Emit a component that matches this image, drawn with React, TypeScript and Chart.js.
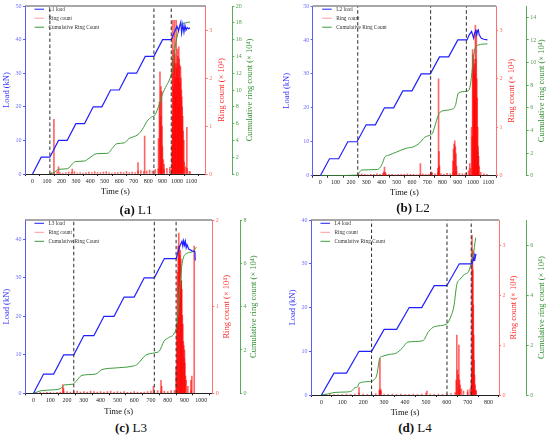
import { useEffect, useRef } from "react";
import { Chart, registerables } from "chart.js";

Chart.register(...registerables);

const SERIF = '"Liberation Serif", "Times New Roman", serif';
Chart.defaults.font.family = SERIF;

// ---------- L1 ----------
const xTicksA = [0, 100, 200, 300, 400, 500, 600, 700, 800, 900, 1000, 1100];
const loadTicksA = [0, 10, 20, 30, 40, 50];
const ringTicksA = [0, 1, 2, 3];
const cumTicksA = [0, 2, 4, 6, 8, 10, 12, 14, 16, 18, 20];
const dashTimesA = [120, 840, 960];
const loadTimeA = [0, 60, 120, 180, 240, 300, 360, 420, 480, 540, 600, 660, 720, 780, 840, 900, 960, 1000, 1010, 1018, 1026, 1032, 1040, 1048, 1055, 1062, 1070, 1080, 1090];
const loadValA = [0, 5, 5, 10, 10, 15, 15, 20, 20, 25, 25, 30, 30, 35, 35, 40, 40, 44, 42.5, 44, 45.2, 42, 44.5, 42.2, 44.2, 42.8, 43.6, 43.2, 43.5];
const cumTimeA = [116, 148, 180, 243, 275, 296, 360, 391, 444, 518, 561, 582, 635, 666, 730, 760, 793, 825, 846, 878, 899, 920, 952, 968, 984, 1005, 1016, 1030, 1060, 1090];
const cumValA = [0, 0.16, 0.56, 0.63, 1.19, 1.47, 1.55, 1.87, 2.42, 2.46, 3.25, 3.6, 3.7, 4.2, 4.7, 5.3, 6.3, 6.8, 7.0, 8.3, 9.5, 10.3, 11.4, 12.4, 14.8, 16.7, 17.5, 17.8, 18.0, 18.1];
const ringTimeA = [148, 180, 275, 730, 776, 872, 878, 882, 886, 889, 893, 896, 899, 905, 910, 962, 966, 969, 972, 975, 978, 981, 984, 987, 990, 994, 997, 1000, 1003, 1006, 1009, 1012, 1015, 1018, 1021, 1024, 1027, 1030, 1033, 1036, 1039, 1043, 1047, 1058, 1068, 1085];
const ringValA = [1.14, 0.15, 0.1, 0.24, 0.79, 0.74, 1.5, 2.13, 1.2, 1.82, 1.72, 1.0, 0.57, 0.3, 0.2, 0.1, 0.6, 3.2, 2.4, 2.58, 1.8, 3.2, 2.5, 2.3, 2.0, 3.2, 2.2, 2.3, 2.6, 2.45, 2.0, 2.65, 2.4, 2.27, 1.9, 2.24, 2.0, 1.75, 1.6, 1.4, 1.2, 0.9, 0.7, 0.15, 0.97, 0.05];
const noiseTimeA = [130, 150, 170, 190, 210, 230, 250, 270, 290, 310, 330, 350, 370, 390, 410, 430, 450, 470, 490, 510, 530, 550, 570, 590, 610, 630, 650, 670, 690, 710, 730, 750, 770, 790, 810, 830, 850, 870, 890, 910, 930, 950, 970, 990, 1010, 1030, 1050, 1070, 1090];
const noiseValA = [
  0.03, 0.02, 0.05, 0.03, 0.02, 0.03, 0.04, 0.03, 0.05, 0.02,
  0.03, 0.02, 0.03, 0.04, 0.03, 0.05, 0.03, 0.03, 0.04, 0.05,
  0.03, 0.02, 0.03, 0.03, 0.04, 0.03, 0.05, 0.03, 0.04, 0.03,
  0.06, 0.07, 0.05, 0.06, 0.08, 0.06, 0.09, 0.11, 0.14, 0.1,
  0.12, 0.14, 1.2, 1.6, 1.4, 1.0, 0.25, 0.12, 0.05,
];

// ---------- L2 ----------
const xTicksB = [0, 100, 200, 300, 400, 500, 600, 700, 800, 900, 1000, 1100];
const loadTicksB = [0, 10, 20, 30, 40, 50];
const ringTicksB = [0, 1, 2, 3];
const cumTicksB = [0, 2, 4, 6, 8, 10, 12, 14];
const dashTimesB = [245, 722, 956];
const loadTimeB = [0, 60, 120, 180, 240, 300, 360, 420, 480, 540, 600, 660, 720, 780, 840, 900, 960, 975, 990, 997, 1004, 1010, 1018, 1024, 1030, 1034, 1040, 1054, 1070, 1094];
const loadValB = [0, 5, 5, 10, 10, 15, 15, 20, 20, 25, 25, 30, 30, 35, 35, 40, 40, 41.5, 42.5, 41.5, 40.5, 42, 42.8, 41.5, 42.8, 43, 41.5, 40.5, 40.2, 40];
const cumTimeB = [0, 244, 256, 270, 374, 400, 424, 445, 500, 564, 614, 650, 684, 720, 734, 748, 774, 794, 854, 884, 904, 954, 974, 990, 1000, 1010, 1034, 1094];
const cumValB = [0, 0.05, 0.3, 0.5, 0.55, 0.9, 1.68, 1.8, 2.1, 2.43, 2.57, 2.9, 3.4, 3.6, 3.75, 4.3, 5.4, 5.7, 5.85, 6.2, 7.3, 7.45, 7.6, 8.8, 10.2, 11.1, 11.55, 11.65];
const ringTimeB = [415, 420, 425, 655, 725, 730, 770, 774, 777, 780, 868, 872, 876, 880, 884, 888, 892, 978, 982, 994, 997, 1000, 1003, 1006, 1009, 1012, 1015, 1018, 1021, 1024, 1027, 1030, 1033, 1036, 1040];
const ringValB = [0.08, 0.18, 0.07, 0.25, 0.08, 0.07, 0.15, 2.0, 0.5, 0.2, 0.3, 0.55, 0.65, 0.72, 0.6, 0.45, 0.2, 0.25, 0.15, 0.8, 2.6, 2.5, 2.2, 2.4, 2.3, 2.1, 3.1, 2.4, 3.0, 2.0, 1.6, 1.0, 0.6, 0.4, 0.2];
const noiseTimeB = [250, 270, 290, 310, 330, 350, 370, 390, 410, 430, 450, 470, 490, 510, 530, 550, 570, 590, 610, 630, 650, 670, 690, 710, 730, 750, 770, 790, 810, 830, 850, 870, 890, 910, 930, 950, 970, 990, 1010, 1030, 1050, 1070, 1090];
const noiseValB = [
  0.03, 0.04, 0.03, 0.02, 0.03, 0.03, 0.04, 0.03, 0.05, 0.04,
  0.03, 0.03, 0.02, 0.03, 0.03, 0.03, 0.04, 0.03, 0.03, 0.02,
  0.03, 0.04, 0.03, 0.03, 0.05, 0.04, 0.06, 0.04, 0.03, 0.05,
  0.04, 0.07, 0.09, 0.05, 0.04, 0.05, 0.1, 1.0, 1.6, 0.5,
  0.07, 0.04, 0.03,
];

// ---------- L3 ----------
const xTicksC = [0, 100, 200, 300, 400, 500, 600, 700, 800, 900, 1000];
const loadTicksC = [0, 10, 20, 30, 40];
const ringTicksC = [0, 1, 2];
const cumTicksC = [0, 2, 4, 6, 8];
const dashTimesC = [240, 720, 850];
const loadTimeC = [0, 60, 120, 180, 240, 300, 360, 420, 480, 540, 600, 660, 720, 780, 850, 870, 885, 890, 895, 900, 905, 910, 915, 925, 945, 962, 964];
const loadValC = [0, 5, 5, 10, 10, 15, 15, 20, 20, 25, 25, 30, 30, 35, 35, 38, 39.5, 38.3, 39.6, 38.5, 39.5, 37.8, 38.6, 37.5, 37, 36.8, 34.5];
const cumTimeC = [0, 45, 118, 163, 186, 235, 253, 289, 371, 407, 488, 588, 615, 669, 723, 750, 778, 805, 841, 855, 868, 886, 913, 949, 971];
const cumValC = [0, 0.12, 0.16, 0.23, 0.39, 0.42, 0.55, 0.83, 0.89, 1.09, 1.17, 1.25, 1.32, 1.76, 1.87, 1.95, 2.41, 2.57, 2.8, 3.2, 4.4, 6.0, 6.46, 6.54, 6.75];
const ringTimeC = [175, 178, 715, 760, 764, 850, 854, 858, 862, 866, 869, 872, 875, 878, 881, 884, 887, 890, 893, 896, 899, 902, 906, 910, 938, 944, 958];
const ringValC = [0.1, 0.06, 0.08, 0.15, 0.08, 0.3, 0.8, 1.4, 1.7, 1.85, 1.7, 1.6, 1.65, 1.55, 1.3, 1.2, 0.9, 0.8, 0.6, 0.55, 0.4, 0.35, 0.2, 0.15, 0.15, 0.2, 1.7];
const noiseTimeC = [20, 40, 60, 80, 100, 120, 140, 160, 180, 200, 220, 240, 260, 280, 300, 320, 340, 360, 380, 400, 420, 440, 460, 480, 500, 520, 540, 560, 580, 600, 620, 640, 660, 680, 700, 720, 740, 760, 780, 800, 820, 840, 860, 880, 900, 920, 940];
const noiseValC = [
  0.005, 0.01, 0.005, 0.01, 0.01, 0.005, 0.01, 0.015, 0.025, 0.02,
  0.015, 0.02, 0.025, 0.015, 0.02, 0.015, 0.025, 0.02, 0.015, 0.02,
  0.015, 0.02, 0.025, 0.015, 0.02, 0.015, 0.02, 0.01, 0.015, 0.02,
  0.015, 0.01, 0.015, 0.02, 0.025, 0.015, 0.03, 0.02, 0.025, 0.02,
  0.03, 0.03, 0.9, 1.3, 0.5, 0.08, 0.03,
];

// ---------- L4 ----------
const xTicksD = [0, 100, 200, 300, 400, 500, 600, 700, 800];
const loadTicksD = [0, 10, 20, 30, 40];
const ringTicksD = [0, 1, 2, 3];
const cumTicksD = [0, 2, 4, 6];
const dashTimesD = [240, 601, 717];
const loadTimeD = [0, 60, 120, 180, 240, 300, 360, 420, 480, 540, 600, 660, 720, 724, 728, 731, 734, 737, 740];
const loadValD = [0, 5, 5, 10, 10, 15, 15, 20, 20, 25, 25, 30, 30, 30.5, 31.3, 30.8, 32, 31.6, 32.3];
const cumTimeD = [0, 31, 60, 116, 145, 159, 173, 180, 230, 251, 265, 279, 289, 329, 357, 386, 414, 485, 513, 542, 599, 620, 634, 648, 662, 684, 705, 715, 726, 738];
const cumValD = [0, 0.04, 0.1, 0.12, 0.16, 0.29, 0.33, 0.47, 0.54, 0.6, 0.8, 1.47, 1.54, 1.63, 1.67, 1.87, 2.12, 2.17, 2.54, 2.74, 2.84, 3.15, 3.55, 4.42, 4.62, 4.82, 4.95, 5.22, 5.56, 6.29];
const ringTimeD = [180, 277, 280, 283, 286, 505, 645, 648, 651, 655, 658, 661, 664, 670, 700, 712, 718, 721, 723, 725, 727, 729, 731, 733, 736, 740];
const ringValD = [0.15, 0.1, 0.73, 0.12, 0.08, 0.08, 0.3, 1.2, 0.5, 0.4, 1.0, 0.3, 0.2, 0.12, 0.1, 0.12, 0.3, 3.2, 2.9, 2.5, 1.8, 1.2, 0.7, 0.4, 0.2, 0.1];
const noiseTimeD = [20, 40, 60, 80, 100, 120, 140, 160, 180, 200, 220, 240, 260, 280, 300, 320, 340, 360, 380, 400, 420, 440, 460, 480, 500, 520, 540, 560, 580, 600, 620, 640, 660, 680, 700, 720, 740];
const noiseValD = [
  0.01, 0.015, 0.015, 0.01, 0.015, 0.02, 0.015, 0.02, 0.04, 0.02,
  0.015, 0.02, 0.03, 0.07, 0.02, 0.015, 0.02, 0.015, 0.02, 0.015,
  0.015, 0.02, 0.015, 0.02, 0.04, 0.02, 0.015, 0.02, 0.015, 0.02,
  0.03, 0.05, 0.12, 0.08, 0.05, 0.5, 0.08,
];

const BLUE = "#2020ff";
const RED = "#ff2a2a";
const GREEN = "#3c9c3c";
const RING_TITLE = "Ring count (× 10⁴)";
const CUM_TITLE = "Cumulative ring count (× 10⁴)";

const panels = [
  {
    key: "a", letter: "(a)", name: "L1", loadLabel: "L1 load",
    xMax: 1147, loadMax: 50, ringMax: 3.5, cumMax: 20,
    xTicks: xTicksA, loadTicks: loadTicksA, ringTicks: ringTicksA, cumTicks: cumTicksA,
    dashes: dashTimesA, loadT: loadTimeA, loadV: loadValA, cumT: cumTimeA, cumV: cumValA,
    ringT: [...ringTimeA, ...noiseTimeA], ringV: [...ringValA, ...noiseValA],
    box: { left: 0, top: 0, w: 260, h: 200, padTop: 6, loadW: 25, ringW: 26.5, cumW: 27.7, xH: 26, loadPad: 1.6, ringPad: 5.5, cumPad: 4.9, xPad: 3.2 },
    cap: { x: 136, y: 210 },
  },
  {
    key: "b", letter: "(b)", name: "L2", loadLabel: "L2 load",
    xMax: 1100, loadMax: 50, ringMax: 3.5, cumMax: 15,
    xTicks: xTicksB, loadTicks: loadTicksB, ringTicks: ringTicksB, cumTicks: cumTicksB,
    dashes: dashTimesB, loadT: loadTimeB, loadV: loadValB, cumT: cumTimeB, cumV: cumValB,
    ringT: [...ringTimeB, ...noiseTimeB], ringV: [...ringValB, ...noiseValB],
    box: { left: 275, top: 0, w: 275, h: 200, padTop: 6, loadW: 37.7, ringW: 30.7, cumW: 23.3, xH: 24.3, loadPad: 6.6, ringPad: 9.9, cumPad: 3.2, xPad: 2.2 },
    cap: { x: 413, y: 208 },
  },
  {
    key: "c", letter: "(c)", name: "L3", loadLabel: "L3 load",
    xMax: 1015, loadMax: 45, ringMax: 2, cumMax: 8,
    xTicks: xTicksC, loadTicks: loadTicksC, ringTicks: ringTicksC, cumTicks: cumTicksC,
    dashes: dashTimesC, loadT: loadTimeC, loadV: loadValC, cumT: cumTimeC, cumV: cumValC,
    ringT: [...ringTimeC, ...noiseTimeC], ringV: [...ringValC, ...noiseValC],
    box: { left: 0, top: 215, w: 260, h: 205, padTop: 5, loadW: 25, ringW: 27.7, cumW: 20, xH: 26.7, loadPad: 1.6, ringPad: 8.2, cumPad: 0.9, xPad: 3.2 },
    cap: { x: 131, y: 428 },
  },
  {
    key: "d", letter: "(d)", name: "L4", loadLabel: "L4 load",
    xMax: 800, loadMax: 40, ringMax: 3.5, cumMax: 7,
    xTicks: xTicksD, loadTicks: loadTicksD, ringTicks: ringTicksD, cumTicks: cumTicksD,
    dashes: dashTimesD, loadT: loadTimeD, loadV: loadValD, cumT: cumTimeD, cumV: cumValD,
    ringT: [...ringTimeD, ...noiseTimeD], ringV: [...ringValD, ...noiseValD],
    box: { left: 275, top: 215, w: 275, h: 205, padTop: 5, loadW: 36, ringW: 27.7, cumW: 23.3, xH: 25, loadPad: 12.2, ringPad: 8.3, cumPad: 3.2, xPad: 2.2 },
    cap: { x: 415, y: 428 },
  },
];

const pts = (xs: number[], ys: number[]) => xs.map((x, i) => ({ x, y: ys[i] }));

// grey top frame, inside legend, and right-hand titles read bottom-to-top
function makeFramePlugin(b: any) {
  return {
    id: "frameLegend",
    afterDraw(chart: any) {
      const { ctx, chartArea: a, scales } = chart;
      ctx.save();
      ctx.strokeStyle = "#8a8a8a";
      ctx.lineWidth = 1.5;
      ctx.beginPath();
      ctx.moveTo(a.left, a.top);
      ctx.lineTo(a.right, a.top);
      ctx.stroke();

      ctx.font = `5.3px ${SERIF}`;
      ctx.textBaseline = "middle";
      ctx.textAlign = "left";
      const items = chart.data.datasets.filter((d: any) => d.legendColor);
      items.forEach((d: any, i: number) => {
        const y = a.top + 3.2 + i * 9;
        ctx.strokeStyle = d.legendColor;
        ctx.lineWidth = 1;
        ctx.beginPath();
        ctx.moveTo(a.left + 9.5, y);
        ctx.lineTo(a.left + 19, y);
        ctx.stroke();
        ctx.fillStyle = "#333";
        ctx.fillText(d.label, a.left + 23.5, y);
      });

      const midY = (a.top + a.bottom) / 2;
      const titles = [
        { s: scales.yRing, text: RING_TITLE, color: RED, pad: b.ringPad },
        { s: scales.yCum, text: CUM_TITLE, color: "#2f8f2f", pad: b.cumPad },
      ];
      ctx.font = `8.5px ${SERIF}`;
      ctx.textAlign = "center";
      titles.forEach((t) => {
        const x = t.s.right - (8.5 * 1.2) / 2 - t.pad;
        ctx.save();
        ctx.translate(x, midY);
        ctx.rotate(-Math.PI / 2);
        ctx.fillStyle = t.color;
        ctx.fillText(t.text, 0, 0);
        ctx.restore();
      });
      ctx.restore();
    },
  };
}

function yAxis(opts: any) {
  return {
    position: opts.position,
    min: 0,
    max: opts.max,
    afterBuildTicks: (s: any) => {
      s.ticks = opts.ticks.map((v: number) => ({ value: v }));
    },
    afterFit: (s: any) => {
      s.width = opts.width;
    },
    ticks: { color: opts.tickColor, font: { size: 6 }, padding: 1.5, callback: (v: number) => String(v) },
    grid: { drawOnChartArea: false, tickLength: 2, color: opts.lineColor },
    border: { color: opts.lineColor, width: 1 },
    title: {
      display: !!opts.title,
      text: opts.title || "",
      color: opts.titleColor,
      font: { size: 8.5 },
      padding: { top: opts.pad || 0, bottom: 0 },
    },
  };
}

function Panel({ p }: { p: any }) {
  const canvasRef = useRef<HTMLCanvasElement>(null);

  useEffect(() => {
    if (!canvasRef.current) return;
    const b = p.box;
    const dashSets = p.dashes.map((t: number) => ({
      type: "line",
      label: "",
      data: [{ x: t, y: 0 }, { x: t, y: p.loadMax }],
      yAxisID: "yLoad",
      borderColor: "#2b2b2b",
      borderWidth: 1,
      borderDash: [3.5, 2.5],
      pointRadius: 0,
      order: 0,
    }));
    const chart = new Chart(canvasRef.current, {
      type: "line",
      data: {
        datasets: [
          {
            type: "line",
            label: p.loadLabel,
            legendColor: BLUE,
            data: pts(p.loadT, p.loadV),
            yAxisID: "yLoad",
            borderColor: BLUE,
            borderWidth: 1.2,
            pointRadius: 0,
            order: 1,
          },
          {
            type: "bar",
            label: "Ring count",
            legendColor: "#ff9a9a",
            data: pts(p.ringT, p.ringV),
            yAxisID: "yRing",
            backgroundColor: "rgba(255,0,0,0.6)",
            barThickness: 1,
            grouped: false,
            order: 3,
          },
          {
            type: "line",
            label: "Cumulative Ring Count",
            legendColor: GREEN,
            data: pts(p.cumT, p.cumV),
            yAxisID: "yCum",
            borderColor: GREEN,
            borderWidth: 1,
            pointRadius: 0,
            cubicInterpolationMode: "monotone",
            order: 2,
          },
          ...dashSets,
        ],
      } as any,
      options: {
        responsive: true,
        maintainAspectRatio: false,
        animation: false,
        layout: { padding: { top: b.padTop, left: 0, right: 0, bottom: 0 } },
        plugins: { legend: { display: false }, tooltip: { enabled: false } },
        scales: {
          x: {
            type: "linear",
            min: 0,
            max: p.xMax,
            afterBuildTicks: (s: any) => {
              s.ticks = p.xTicks.map((v: number) => ({ value: v }));
            },
            afterFit: (s: any) => {
              s.height = b.xH;
            },
            ticks: {
              color: "#222",
              font: { size: 6 },
              padding: 1.5,
              maxRotation: 0,
              autoSkip: false,
              callback: (v: number) => String(v),
            },
            grid: { drawOnChartArea: false, tickLength: 2, color: "#222" },
            border: { color: "#222", width: 1 },
            title: {
              display: true,
              text: "Time (s)",
              color: "#111",
              font: { size: 8.5 },
              padding: { top: 0, bottom: b.xPad },
            },
          },
          yLoad: yAxis({
            position: "left", max: p.loadMax, ticks: p.loadTicks, width: b.loadW,
            tickColor: "#6d6dff", lineColor: "#5a5aff", titleColor: "#3535ff",
            title: "Load (kN)", pad: b.loadPad,
          }),
          yRing: yAxis({
            position: "right", max: p.ringMax, ticks: p.ringTicks, width: b.ringW,
            tickColor: "#ff6a6a", lineColor: "#ff7070",
          }),
          yCum: yAxis({
            position: "right", max: p.cumMax, ticks: p.cumTicks, width: b.cumW,
            tickColor: "#4f9f4f", lineColor: "#5aaa5a",
          }),
        },
      } as any,
      plugins: [makeFramePlugin(b)],
    });
    return () => chart.destroy();
  }, [p]);

  return (
    <div style={{ position: "absolute", left: p.box.left, top: p.box.top, width: p.box.w, height: p.box.h }}>
      <canvas ref={canvasRef} />
    </div>
  );
}

export default function App() {
  return (
    <div
      style={{
        position: "absolute",
        left: 0,
        top: 0,
        width: 550,
        height: 439,
        background: "#fff",
        overflow: "hidden",
        fontFamily: SERIF,
      }}
    >
      {panels.map((p) => (
        <Panel key={p.key} p={p} />
      ))}
      {panels.map((p) => (
        <div
          key={"cap" + p.key}
          style={{
            position: "absolute",
            left: p.cap.x,
            top: p.cap.y,
            transform: "translate(-50%, -50%)",
            fontSize: 13,
            color: "#111",
            whiteSpace: "nowrap",
          }}
        >
          <b>{p.letter}</b> {p.name}
        </div>
      ))}
    </div>
  );
}
